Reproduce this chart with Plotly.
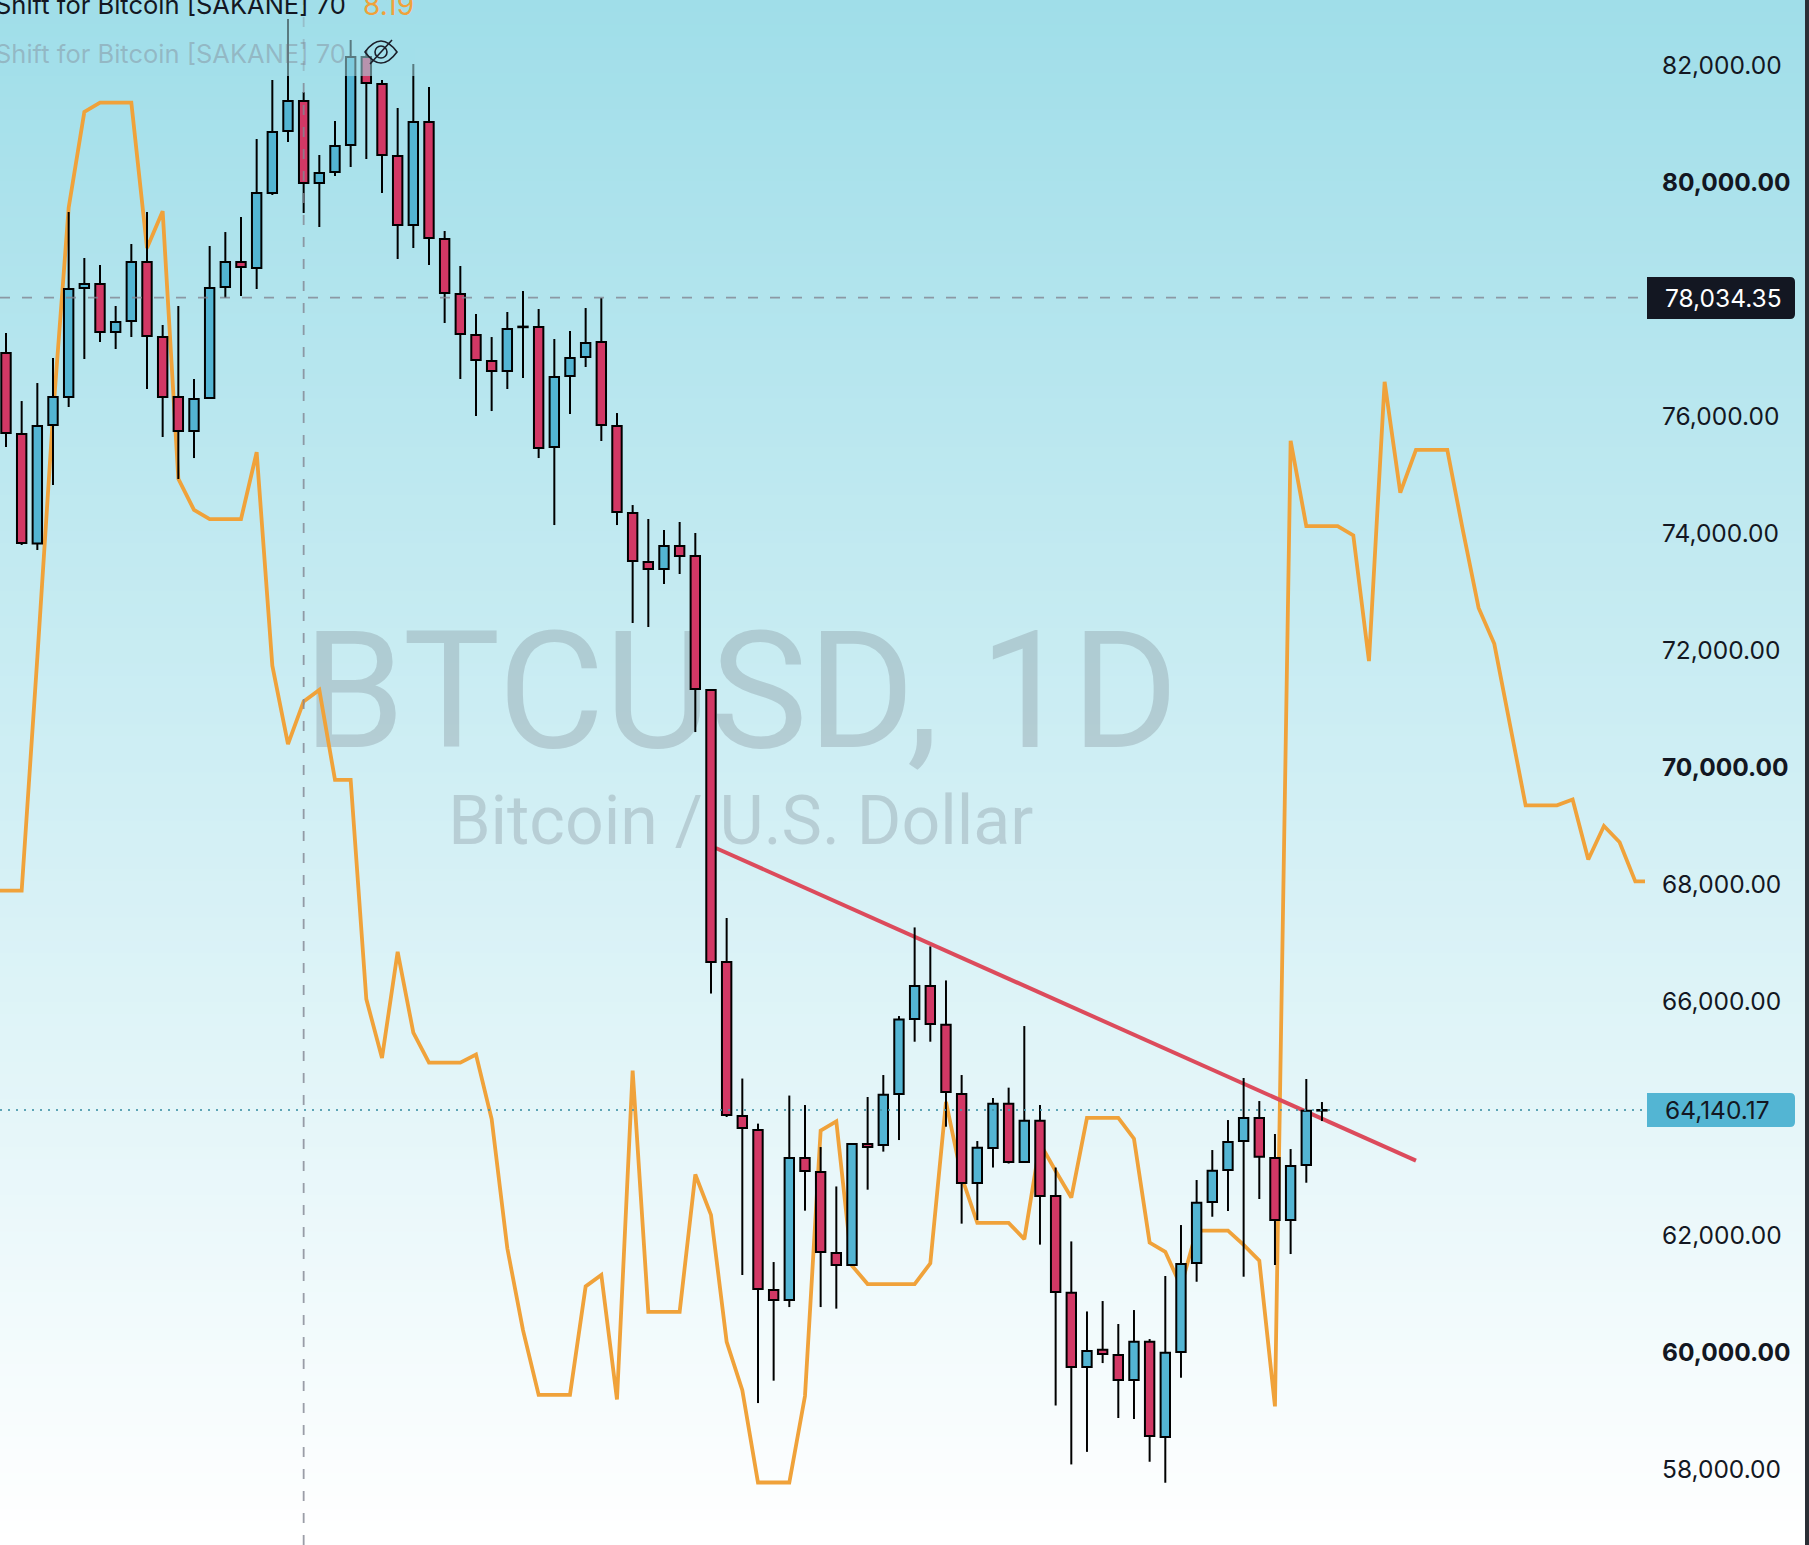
import plotly.graph_objects as go

W = 1809
H = 1545

# daily candles
opens = [77089, 75703, 73830, 75857, 76336, 78200, 78269, 77448, 77636, 78645,
         77362, 76336, 75754, 76319, 78218, 78645, 78543, 79826, 80886, 81399,
         79997, 80185, 80647, 82152, 81690, 80458, 79278, 81040, 79039, 78098,
         77396, 76952, 76781, 77540, 77533, 75481, 76695, 77020, 77277, 75840,
         74352, 73513, 73394, 73787, 73616, 71324, 66671, 64037, 63797, 61060,
         60889, 63318, 63079, 61693, 61488, 63558, 63541, 64413, 65696, 66261,
         65598, 64413, 62891, 63489, 64246, 63250, 63955, 62668, 61012, 59743,
         60039, 59948, 59521, 60176, 58546, 60000, 61522, 62566, 63113, 63609,
         64002, 63318, 62258, 63199, 64130]
highs = [77431, 76267, 76575, 77003, 79501, 78714, 78594, 77893, 78953, 79501,
         77568, 77893, 76644, 78919, 79158, 79415, 80749, 81759, 82802, 81553,
         80476, 81057, 82443, 82272, 81759, 81280, 82032, 81639, 79176, 78577,
         77756, 77362, 77790, 78149, 77841, 77328, 77465, 77858, 78029, 76062,
         74488, 74249, 74061, 74198, 74010, 71324, 67424, 64678, 63907, 61539,
         64387, 64225, 63506, 62832, 63558, 64362, 64738, 65747, 67263, 66938,
         66356, 64738, 63609, 64345, 64522, 65576, 64225, 63156, 61892, 60694,
         60872, 60479, 60718, 60222, 61300, 62172, 62942, 63455, 63968, 64687,
         64293, 63729, 63472, 64670, 64276]
lows = [75481, 73804, 73719, 74831, 76165, 76986, 77277, 77157, 77362, 76473,
        75652, 74933, 75292, 76302, 78029, 78064, 78183, 79791, 80698, 79483,
        79244, 80116, 80270, 80407, 79826, 78697, 78885, 78594, 77602, 76644,
        76011, 76096, 76473, 76661, 75292, 74146, 76045, 76849, 75583, 74146,
        72470, 72402, 73137, 73308, 70605, 66132, 64020, 61317, 59127, 59510,
        60769, 62418, 60769, 60742, 61480, 62777, 63428, 63626, 65308, 65308,
        63854, 62196, 62258, 63156, 63224, 63240, 61837, 59085, 58077, 58292,
        59811, 58871, 58854, 58123, 57764, 59560, 61202, 62314, 62412, 61288,
        62617, 61488, 61676, 62896, 63951]
closes = [75720, 73838, 75840, 76336, 78183, 78269, 77448, 77619, 78645, 77379,
          76336, 75754, 76302, 78200, 78645, 78560, 79826, 80869, 81399, 79997,
          80168, 80630, 82152, 81707, 80476, 79278, 81040, 79056, 78115, 77414,
          76969, 76781, 77499, 77530, 75464, 76678, 77003, 77260, 75857, 74369,
          73531, 73394, 73787, 73616, 71341, 66671, 64054, 63831, 61077, 60889,
          63318, 63096, 61710, 61488, 63558, 63506, 64401, 65686, 66261, 65610,
          64447, 62891, 63495, 64246, 63250, 63955, 62668, 61026, 59743, 60017,
          59965, 59521, 60176, 58563, 59988, 61505, 62553, 63101, 63592, 64002,
          63340, 62258, 63181, 64128, 64140.17]

# orange shifted indicator, starts one bar left of the first candle
shift_values = [67892, 67892, 67892, 71878, 76022, 79575, 81213, 81371, 81371, 81371,
                78884, 79515, 74937, 74404, 74246, 74246, 74246, 75391, 71740, 70398,
                71128, 71325, 69786, 69786, 66037, 65030, 66846, 65464, 64951, 64951,
                64951, 65089, 63984, 61774, 60373, 59267, 59267, 59267, 61122, 61320,
                59188, 64813, 60688, 60688, 60688, 63037, 62346, 60175, 59346, 57768,
                57768, 57768, 59248, 63787, 63945, 61478, 61162, 61162, 61162, 61162,
                61517, 64280, 62997, 62208, 62208, 62208, 61932, 63570, 63096, 62642,
                64004, 64004, 64004, 63649, 61872, 61715, 61122, 62076, 62076, 62076,
                61833, 61563, 59070, 75588, 74128, 74128, 74128, 73970, 71819, 76595,
                74700, 75430, 75430, 75430, 74049, 72727, 72115, 70733, 69352, 69352,
                69352, 69451, 68424, 68997, 68720, 68049, 68049]

trend_x = [45.3, 90.0]
trend_y = [68622, 63274]

tick_vals = [58000, 60000, 62000, 64000, 66000, 68000, 70000, 72000, 74000, 76000, 78000, 80000, 82000]
tick_text = ["58,000.00", "<b>60,000.00</b>", "62,000.00", "", "66,000.00", "68,000.00",
             "<b>70,000.00</b>", "72,000.00", "74,000.00", "76,000.00", "", "<b>80,000.00</b>", "82,000.00"]

crosshair_price = 78034.35
crosshair_bar = 19
last_price = 64140.17

FONT = "Inter"
UP = "#53b5d3"
DOWN = "#d23865"
ORANGE = "#f0a23a"

candle_x = list(range(len(opens)))
shift_x = list(range(-1, len(shift_values) - 1))

x_range = [-0.383, 104.62]
y_range = [56699, 83127]
x_domain = [0, 1645 / W]


def px(x):
    return x / W


def py(y):
    return 1 - y / H


def rounded_label(x0, x1, y0, y1, r, color):
    # square on the left, rounded on the right like the price tags
    return dict(
        type="path", xref="paper", yref="paper", layer="above", line_width=0, fillcolor=color,
        path=f"M {px(x0)} {py(y0)} L {px(x1 - r)} {py(y0)} Q {px(x1)} {py(y0)} {px(x1)} {py(y0 + r)} "
             f"L {px(x1)} {py(y1 - r)} Q {px(x1)} {py(y1)} {px(x1 - r)} {py(y1)} L {px(x0)} {py(y1)} Z",
    )


# background gradient, top colour down to white. each band runs to the bottom
# so no seams show between them
shapes = []
top_c = (160, 222, 233)
bands = 128
for i in range(bands):
    t = i / (bands - 1)
    c = [round(a + (255 - a) * t) for a in top_c]
    shapes.append(dict(type="rect", xref="paper", yref="paper", layer="below", line_width=0,
                       x0=0, x1=1, y0=0, y1=1 - i / bands,
                       fillcolor=f"rgb({c[0]},{c[1]},{c[2]})"))

# right edge of the window
shapes.append(dict(type="rect", xref="paper", yref="paper", layer="above", line_width=0,
                   x0=px(1805), x1=1, y0=0, y1=1, fillcolor="#2b2e35"))

# crosshair and last price line
shapes.append(dict(type="line", xref="x", yref="y", layer="above", x0=x_range[0], x1=x_range[1],
                   y0=crosshair_price, y1=crosshair_price,
                   line=dict(color="rgba(130,133,145,0.8)", width=1.8, dash="10px,12px")))
shapes.append(dict(type="line", xref="x", yref="paper", layer="above", x0=crosshair_bar, x1=crosshair_bar,
                   y0=0, y1=1, line=dict(color="rgba(130,133,145,0.8)", width=1.8, dash="10px,12px")))
shapes.append(dict(type="line", xref="x", yref="y", layer="above", x0=x_range[0], x1=x_range[1],
                   y0=last_price, y1=last_price,
                   line=dict(color="rgba(70,150,170,0.85)", width=1.8, dash="2px,6px")))

# legend wash over the candles
shapes.append(dict(type="rect", xref="paper", yref="paper", layer="above", line_width=0,
                   x0=0, x1=px(415), y0=py(76), y1=1, fillcolor="rgba(163,223,234,0.55)"))

# price tags
shapes.append(rounded_label(1647, 1795, 277, 319, 5, "#131722"))
shapes.append(rounded_label(1647, 1795, 1093, 1127, 5, UP))

# hidden-eye icon
ex, ey = 381, 52
shapes.append(dict(type="path", xref="paper", yref="paper", layer="above",
                   line=dict(color="#1b1f2a", width=1.6),
                   path=f"M {px(ex - 16)} {py(ey)} Q {px(ex)} {py(ey - 22)} {px(ex + 16)} {py(ey)} "
                        f"Q {px(ex)} {py(ey + 22)} {px(ex - 16)} {py(ey)} Z"))
shapes.append(dict(type="circle", xref="paper", yref="paper", layer="above",
                   line=dict(color="#1b1f2a", width=1.6),
                   x0=px(ex - 6), x1=px(ex + 6), y0=py(ey + 6), y1=py(ey - 6)))
shapes.append(dict(type="line", xref="paper", yref="paper", layer="above",
                   line=dict(color="#1b1f2a", width=1.6),
                   x0=px(ex - 11), x1=px(ex + 11), y0=py(ey + 12), y1=py(ey - 12)))

fig = go.Figure()

# watermark sits behind everything
fig.add_trace(go.Scatter(x=[46.9], y=[71050], mode="text", text=["BTCUSD, 1D"], hoverinfo="skip",
                         textposition="middle center",
                         textfont=dict(family="Roboto", size=163.5, color="rgba(120,130,140,0.3)")))
fig.add_trace(go.Scatter(x=[46.9], y=[68985], mode="text", text=["Bitcoin / U.S. Dollar"], hoverinfo="skip",
                         textposition="middle center",
                         textfont=dict(family="Roboto", size=68, color="rgba(120,130,140,0.3)")))

fig.add_trace(go.Scatter(x=shift_x, y=shift_values, mode="lines", hoverinfo="skip",
                         line=dict(color=ORANGE, width=3.8)))
fig.add_trace(go.Scatter(x=trend_x, y=trend_y, mode="lines", hoverinfo="skip",
                         line=dict(color="#dc4b5c", width=4)))

# candles: bars for bodies and a line trace for wicks, go.Candlestick would not
# give the body width. on the overlaid axes so they come out on top of the lines
body_base = [min(o, c) for o, c in zip(opens, closes)]
body_size = [abs(o - c) for o, c in zip(opens, closes)]
body_color = [UP if c > o else DOWN for o, c in zip(opens, closes)]
body_color[33] = DOWN

wick_x = []
wick_y = []
for i in candle_x:
    wick_x += [i, i, None, i, i, None]
    wick_y += [highs[i], max(opens[i], closes[i]), None, min(opens[i], closes[i]), lows[i], None]

fig.add_trace(go.Bar(x=candle_x, y=body_size, base=body_base, width=0.6, xaxis="x2", yaxis="y2",
                     hoverinfo="skip", marker=dict(color=body_color, line=dict(color="#000000", width=2))))
fig.add_trace(go.Scatter(x=wick_x, y=wick_y, mode="lines", xaxis="x2", yaxis="y2", hoverinfo="skip",
                         connectgaps=False, line=dict(color="#000000", width=2)))

annotations = [
    dict(text="Shift for Bitcoin [SAKANE] 70", x=px(-7), y=py(5), font=dict(family=FONT, size=25.5, color="#131722")),
    dict(text="8.19", x=px(361), y=py(5), font=dict(family=FONT, size=28, color=ORANGE)),
    dict(text="Shift for Bitcoin [SAKANE] 70", x=px(-7), y=py(53), font=dict(family=FONT, size=25.5, color="rgba(120,110,125,0.35)")),
    dict(text="78,034.35", x=px(1663), y=py(298), font=dict(family=FONT, size=24.5, color="#ffffff")),
    dict(text="64,140.17", x=px(1663), y=py(1110), font=dict(family=FONT, size=24.5, color="#131722")),
]
for a in annotations:
    a.update(xref="paper", yref="paper", xanchor="left", yanchor="middle", showarrow=False)

fig.update_layout(
    width=W,
    height=H,
    margin=dict(l=0, r=0, t=0, b=0),
    showlegend=False,
    hovermode=False,
    paper_bgcolor="#ffffff",
    plot_bgcolor="rgba(0,0,0,0)",
    shapes=shapes,
    annotations=annotations,
    xaxis=dict(domain=x_domain, range=x_range, visible=False),
    yaxis=dict(domain=[0, 1], range=y_range, side="right", anchor="x", showgrid=False, zeroline=False,
               showline=False, ticks="", ticklabelstandoff=16, tickmode="array",
               tickvals=tick_vals, ticktext=tick_text,
               tickfont=dict(family=FONT, size=24.5, color="#131722")),
    xaxis2=dict(domain=x_domain, range=x_range, visible=False, overlaying="x", anchor="y2"),
    yaxis2=dict(domain=[0, 1], range=y_range, visible=False, overlaying="y", anchor="x2"),
)

fig.write_html("out.html", config={"displayModeBar": False}, post_script="document.body.style.margin='0';")
